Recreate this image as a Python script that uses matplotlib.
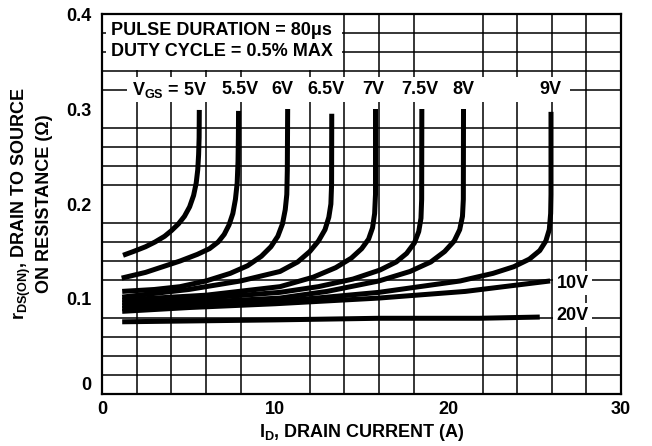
import matplotlib
matplotlib.use("Agg")
import matplotlib.pyplot as plt
from matplotlib.patches import Rectangle

plt.rcParams['font.family'] = ['Liberation Sans', 'DejaVu Sans']
plt.rcParams['font.weight'] = 'bold'
plt.rcParams['mathtext.fontset'] = 'custom'
plt.rcParams['mathtext.rm'] = 'Liberation Sans:bold'
plt.rcParams['mathtext.it'] = 'Liberation Sans:bold'
plt.rcParams['mathtext.bf'] = 'Liberation Sans:bold'

# r_DS(ON) vs I_D
vgs_5 = ([1.2, 1.8, 2.5, 3.05, 3.6, 4.0, 4.4, 4.75, 5.05, 5.28, 5.43, 5.52, 5.57, 5.6, 5.61],
         [0.146, 0.150, 0.155, 0.160, 0.166, 0.172, 0.179, 0.187, 0.197, 0.209, 0.222,
          0.236, 0.252, 0.27, 0.299])
vgs_55 = ([1.12, 2.5, 3.5, 4.5, 5.5, 6.2, 6.7, 7.05, 7.33, 7.55, 7.7, 7.8, 7.85, 7.87, 7.88],
          [0.122, 0.128, 0.134, 0.140, 0.147, 0.153, 0.160, 0.168, 0.178, 0.19, 0.205,
           0.222, 0.245, 0.27, 0.298])
vgs_6 = ([1.15, 3.0, 4.5, 6.0, 7.4, 8.4, 9.2, 9.75, 10.15, 10.42, 10.58, 10.67, 10.7, 10.72],
         [0.108, 0.110, 0.113, 0.119, 0.127, 0.135, 0.145, 0.155, 0.166, 0.179, 0.194,
          0.21, 0.235, 0.3])
vgs_65 = ([1.15, 5.0, 8.0, 10.28, 11.3, 12.0, 12.5, 12.88, 13.1, 13.22, 13.26, 13.27],
          [0.102, 0.110, 0.119, 0.129, 0.139, 0.150, 0.161, 0.173, 0.186, 0.2, 0.22, 0.295])
vgs_7 = ([1.15, 6.0, 10.28, 12.2, 13.5, 14.4, 15.0, 15.4, 15.63, 15.75, 15.8, 15.8],
         [0.099, 0.104, 0.113, 0.123, 0.133, 0.143, 0.153, 0.163, 0.175, 0.19, 0.21, 0.3])
vgs_75 = ([1.15, 6.0, 10.28, 12.5, 14.5, 16.06, 17.0, 17.6, 18.05, 18.3, 18.43, 18.47, 18.48],
          [0.096, 0.101, 0.107, 0.113, 0.121, 0.1305, 0.139, 0.148, 0.159, 0.171, 0.185,
           0.205, 0.3])
vgs_8 = ([1.15, 6.0, 10.28, 13.0, 16.0, 17.8, 19.0, 19.8, 20.35, 20.67, 20.83, 20.88, 20.89],
         [0.093, 0.097, 0.101, 0.108, 0.119, 0.129, 0.139, 0.15, 0.161, 0.173, 0.187,
          0.205, 0.3])
vgs_9 = ([1.15, 10.0, 16.0, 20.7, 22.6, 23.8, 24.7, 25.3, 25.65, 25.85, 25.93, 25.95, 25.95],
         [0.090, 0.097, 0.107, 0.119, 0.127, 0.134, 0.142, 0.151, 0.161, 0.173, 0.19,
          0.21, 0.297])
vgs_10 = ([1.15, 5.0, 10.0, 16.0, 21.0, 25.9],
          [0.087, 0.091, 0.095, 0.101, 0.108, 0.119])
vgs_20 = ([1.15, 10.0, 16.0, 21.8, 25.3],
          [0.076, 0.078, 0.0797, 0.0797, 0.081])

curves = [vgs_5, vgs_55, vgs_6, vgs_65, vgs_7, vgs_75, vgs_8, vgs_9, vgs_10, vgs_20]

# top row labels: (text, x)
top_labels = [("V$_{GS}$ = 5V", 3.87), ("5.5V", 7.94), ("6V", 10.42), ("6.5V", 12.94),
              ("7V", 15.66), ("7.5V", 18.34), ("8V", 20.86), ("9V", 25.9)]
side_labels = [("10V", 27.2, 0.1165), ("20V", 27.2, 0.083)]

fs = 13

fig = plt.figure(figsize=(6.52, 4.46), dpi=100)
ax = fig.add_axes([0.1569, 0.1166, 0.7956, 0.852])

ax.set_xlim(0, 30)
ax.set_ylim(0, 0.4)
ax.set_xticks([0, 10, 20, 30])
ax.set_yticks([0, 0.1, 0.2, 0.3, 0.4])
ax.set_yticklabels(["0", "0.1", "0.2", "0.3", "0.4"])
ax.set_xticks(range(0, 31, 2), minor=True)
ax.set_yticks([i * 0.02 for i in range(21)], minor=True)
ax.tick_params(which='both', length=0, labelsize=fs)
ax.tick_params(axis='y', pad=8)
ax.tick_params(axis='x', pad=5)
ax.yaxis.get_ticklabels()[0].set_verticalalignment('bottom')
ax.set_axisbelow(True)
ax.grid(which='minor', color='black', linewidth=1.1)
for s in ax.spines.values():
    s.set_linewidth(1.6)

for xs, ys in curves:
    ax.plot(xs, ys, color='black', linewidth=3.6, solid_capstyle='butt',
            solid_joinstyle='round')

# white areas behind the notes
ax.add_patch(Rectangle((0.22, 0.341), 13.63, 0.058, facecolor='white',
                       edgecolor='none', zorder=1))
ax.add_patch(Rectangle((1.43, 0.307), 25.62, 0.0265, facecolor='white',
                       edgecolor='none', zorder=1))

ax.text(0.49, 0.3824, "PULSE DURATION = 80\u03bcs", fontsize=fs, va='center', ha='left')
ax.text(0.49, 0.3603, "DUTY CYCLE = 0.5% MAX", fontsize=fs, va='center', ha='left')

for txt, x in top_labels:
    ax.text(x, 0.3205, txt, fontsize=fs, ha='center', va='center')

for txt, x, y in side_labels:
    ax.text(x, y, txt, fontsize=fs, ha='center', va='center',
            bbox=dict(facecolor='white', edgecolor='none', pad=2.5))

ax.set_xlabel("I$_{D}$, DRAIN CURRENT (A)", fontsize=fs, fontweight='bold')
ax.xaxis.set_label_coords(0.5, -0.075)
ax.set_ylabel("r$_{DS(ON)}$, DRAIN TO SOURCE\nON RESISTANCE (\u03a9)", fontsize=fs,
              fontweight='bold')
ax.yaxis.set_label_coords(-0.095, 0.5)

fig.savefig("out.png", dpi=100)
